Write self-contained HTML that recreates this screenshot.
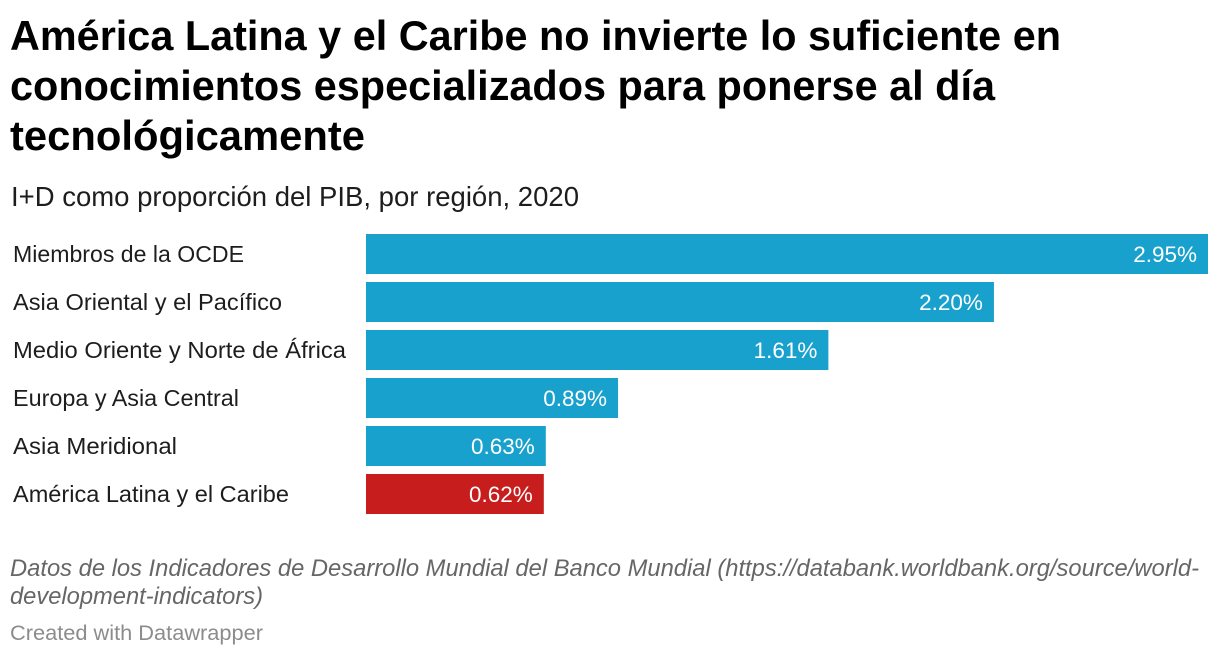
<!DOCTYPE html>
<html lang="es">
<head>
<meta charset="utf-8">
<title>I+D como proporción del PIB</title>
<style>
html,body{margin:0;padding:0;background:#fff;width:1220px;height:656px;overflow:hidden}
svg{display:block}
text{font-family:"Liberation Sans",Arial,sans-serif}
.title{font-size:41.5px;font-weight:700;fill:#000}
.subtitle{font-size:27.5px;fill:#1d1d1d}
.source{font-size:24px;font-style:italic;fill:#666}
.credit{font-size:21px;fill:#8c8c8c}
.cat{font-size:23.5px;fill:#1d1d1d}
.val{font-size:22.5px;fill:#fff}
</style>
</head>
<body>
<svg id="chart" xmlns="http://www.w3.org/2000/svg" width="1220" height="656" viewBox="0 0 1220 656">
  <g>
    <text class="title" x="10" y="50" textLength="1051" lengthAdjust="spacingAndGlyphs">América Latina y el Caribe no invierte lo suficiente en</text>
    <text class="title" x="10" y="100" textLength="985" lengthAdjust="spacingAndGlyphs">conocimientos especializados para ponerse al día</text>
    <text class="title" x="10" y="150" textLength="355" lengthAdjust="spacingAndGlyphs">tecnológicamente</text>
  </g>
  <text class="subtitle" x="11" y="206" textLength="568" lengthAdjust="spacingAndGlyphs">I+D como proporción del PIB, por región, 2020</text>
  <g id="bars"></g>
  <g>
    <text class="source" x="10" y="576" textLength="1189" lengthAdjust="spacingAndGlyphs">Datos de los Indicadores de Desarrollo Mundial del Banco Mundial (https://databank.worldbank.org/source/world-</text>
    <text class="source" x="10" y="604" textLength="253" lengthAdjust="spacingAndGlyphs">development-indicators)</text>
  </g>
  <text class="credit" x="10" y="640" textLength="253" lengthAdjust="spacingAndGlyphs">Created with Datawrapper</text>
</svg>
<script>
const categories = ["Miembros de la OCDE", "Asia Oriental y el Pacífico", "Medio Oriente y Norte de África", "Europa y Asia Central", "Asia Meridional", "América Latina y el Caribe"];
const barValues = [2.95, 2.20, 1.62, 0.883, 0.63, 0.623];
const printedValues = ["2.95%", "2.20%", "1.61%", "0.89%", "0.63%", "0.62%"];
const highlighted = ["América Latina y el Caribe"];

const NS = "http://www.w3.org/2000/svg";
const plotLeft = 366, plotRight = 1208, plotTop = 234, rowStep = 48, barHeight = 40;
const domainMax = Math.max.apply(null, barValues);
function xScale(v) { return (plotRight - plotLeft) * v / domainMax; }
function yScale(i) { return plotTop + i * rowStep; }
function slug(s) {
  return s.normalize("NFD").replace(/[\u0300-\u036f]/g, "").toLowerCase().replace(/[^a-z0-9]+/g, "-");
}
// Rendered label widths, so the substitute font occupies the same run length.
const labelWidthFor = {
  "Miembros de la OCDE": 231,
  "Asia Oriental y el Pacífico": 269,
  "Medio Oriente y Norte de África": 333,
  "Europa y Asia Central": 226,
  "Asia Meridional": 164,
  "América Latina y el Caribe": 276
};
const group = document.getElementById("bars");
categories.forEach(function (cat, i) {
  const y = yScale(i);
  const w = xScale(barValues[i]);
  const s = slug(cat);

  const label = document.createElementNS(NS, "text");
  label.setAttribute("class", "cat");
  label.setAttribute("x", 13);
  label.setAttribute("y", y + 28);
  if (labelWidthFor[cat]) {
    label.setAttribute("textLength", labelWidthFor[cat]);
    label.setAttribute("lengthAdjust", "spacingAndGlyphs");
  }
  label.textContent = cat;
  
  
  group.appendChild(label);

  const bar = document.createElementNS(NS, "rect");
  bar.setAttribute("x", plotLeft);
  bar.setAttribute("y", y);
  bar.setAttribute("width", w);
  bar.setAttribute("height", barHeight);
  bar.setAttribute("fill", highlighted.indexOf(cat) >= 0 ? "#c71e1d" : "#18a1cd");
  
  
  group.appendChild(bar);

  const val = document.createElementNS(NS, "text");
  val.setAttribute("class", "val");
  val.setAttribute("x", plotLeft + w - 11);
  val.setAttribute("y", y + 28);
  val.setAttribute("text-anchor", "end");
  val.textContent = printedValues[i];
  
  
  group.appendChild(val);
});
</script>
</body>
</html>
